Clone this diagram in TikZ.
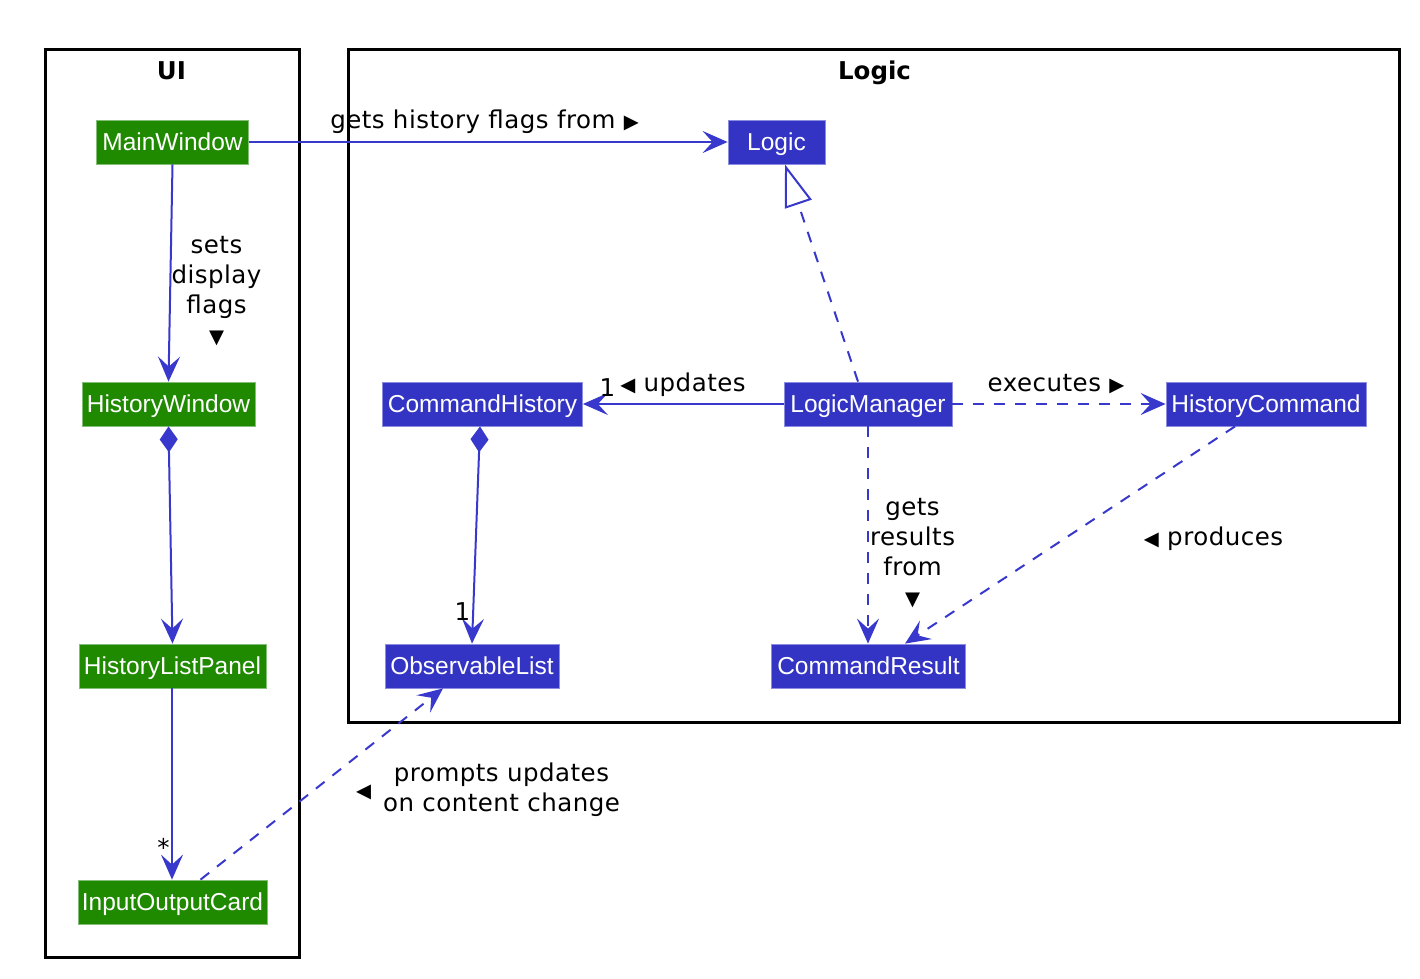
\documentclass[tikz,border=0pt]{standalone}
\usepackage{fontspec}
\setmainfont{DejaVu Sans}[LetterSpace=2]
\newfontfamily\nodefont{Liberation Sans}
\newfontfamily\titlefont{DejaVu Sans}[LetterSpace=0]
\usetikzlibrary{arrows.meta}
\definecolor{uigreen}{RGB}{31,137,0}
\definecolor{uigreenborder}{RGB}{130,190,120}
\definecolor{lgblue}{RGB}{52,52,196}
\definecolor{lgblueborder}{RGB}{140,140,225}
\definecolor{linkblue}{RGB}{56,56,204}
\newcommand\smalltri[1]{{\fontsize{19.5}{20}\selectfont #1}}
\begin{document}
\begin{tikzpicture}[x=1pt,y=-1pt,
  box/.style={draw, line width=0.8pt, inner sep=0pt, minimum height=44pt,
    text height=17.5pt, text depth=0pt, text=white,
    font=\nodefont\fontsize{24.5}{28}\selectfont},
  uibox/.style={box, fill=uigreen, draw=uigreenborder},
  lgbox/.style={box, fill=lgblue, draw=lgblueborder},
  frame/.style={draw=black, line width=3pt},
  title/.style={font=\titlefont\fontsize{24.5}{30}\selectfont\bfseries, anchor=base, inner sep=0pt},
  lbl/.style={font=\fontsize{24.5}{30}\selectfont, inner sep=0pt},
  link/.style={draw=linkblue, line width=2pt},
  dashedlink/.style={link, dash pattern=on 11pt off 10pt},
  tip/.style={-{Stealth[length=25pt,width=22pt,inset=10pt]}},
  comptip/.style={{Diamond[length=26pt,width=18pt]}-{Stealth[length=25pt,width=22pt,inset=10pt]}},
  realtip/.style={-{Triangle[open,length=42pt,width=28pt,fill=white]}}
]
\useasboundingbox (0,0) rectangle (1420,978);

% packages
\draw[frame] (45,49) rectangle (299.5,957);
\draw[frame] (348.5,49) rectangle (1399.5,722);
\node[title] (uititle) at (171.5,79) {UI};
\node[title] (logictitle) at (874.5,79) {Logic};

% UI classes
\node[uibox, minimum width=152pt] (MainWindow) at (172.5,142) {MainWindow};
\node[uibox, minimum width=173pt] (HistoryWindow) at (168.5,404) {HistoryWindow};
\node[uibox, minimum width=187pt] (HistoryListPanel) at (172.5,666) {HistoryListPanel};
\node[uibox, minimum width=189pt] (InputOutputCard) at (172.5,902) {InputOutputCard};

% Logic classes
\node[lgbox, minimum width=97pt] (Logic) at (776.5,142) {Logic};
\node[lgbox, minimum width=200pt] (CommandHistory) at (482.5,404) {CommandHistory};
\node[lgbox, minimum width=168pt] (LogicManager) at (868,404) {LogicManager};
\node[lgbox, minimum width=200pt] (HistoryCommand) at (1266,404) {HistoryCommand};
\node[lgbox, minimum width=174pt] (ObservableList) at (472,666) {ObservableList};
\node[lgbox, minimum width=194pt] (CommandResult) at (868.5,666) {CommandResult};

% connectors
\draw[link, tip] (MainWindow.east) -- (Logic.west);
\draw[link, tip] (MainWindow.south) -- (HistoryWindow.north);
\draw[link, comptip] (HistoryWindow.south) -- (HistoryListPanel.north);
\draw[link, tip] ([xshift=-0.5pt]HistoryListPanel.south) -- ([xshift=-0.5pt]InputOutputCard.north);
\draw[dashedlink, tip] ([xshift=28pt]InputOutputCard.north) -- ([xshift=-29pt]ObservableList.south);
\draw[dashedlink, realtip] ([xshift=-10pt]LogicManager.north) -- ([xshift=8.5pt]Logic.south);
\draw[link, tip] (LogicManager.west) -- (CommandHistory.east);
\draw[link, comptip] ([xshift=-2.5pt]CommandHistory.south) -- (ObservableList.north);
\draw[dashedlink, tip] (LogicManager.east) -- (HistoryCommand.west);
\draw[dashedlink, tip] (LogicManager.south) -- ([xshift=-0.5pt]CommandResult.north);
\draw[dashedlink, tip] ([xshift=-31pt]HistoryCommand.south) -- ([xshift=36.5pt]CommandResult.north);

% labels
\node[lbl, anchor=base] (lblgets) at (484.5,128) {gets history flags from \smalltri{▶}};
\node[lbl, align=center] (lblsets) at (216.5,291) {sets\\display\\flags\\\smalltri{▼}};
\node[lbl, align=center] (lblresults) at (912.5,553) {gets\\results\\from\\\smalltri{▼}};
\node[lbl, anchor=base] (mult1) at (607.5,396) {1};
\node[lbl, anchor=base] (lblupdates) at (683,391) {\smalltri{◀} updates};
\node[lbl, anchor=base] (lblexecutes) at (1056,391) {executes \smalltri{▶}};
\node[lbl, anchor=base] (lblproduces) at (1213.5,545) {\smalltri{◀} produces};
\node[lbl, anchor=base] (mult2) at (462.5,620) {1};
\node[lbl, anchor=base] (multstar) at (163.5,856) {*};
\node[lbl, anchor=base] (lblprompts) at (488,797) {\smalltri{◀}\hspace{12pt}\begin{tabular}{@{}c@{}}prompts updates\\on content change\end{tabular}};
\end{tikzpicture}
\end{document}
